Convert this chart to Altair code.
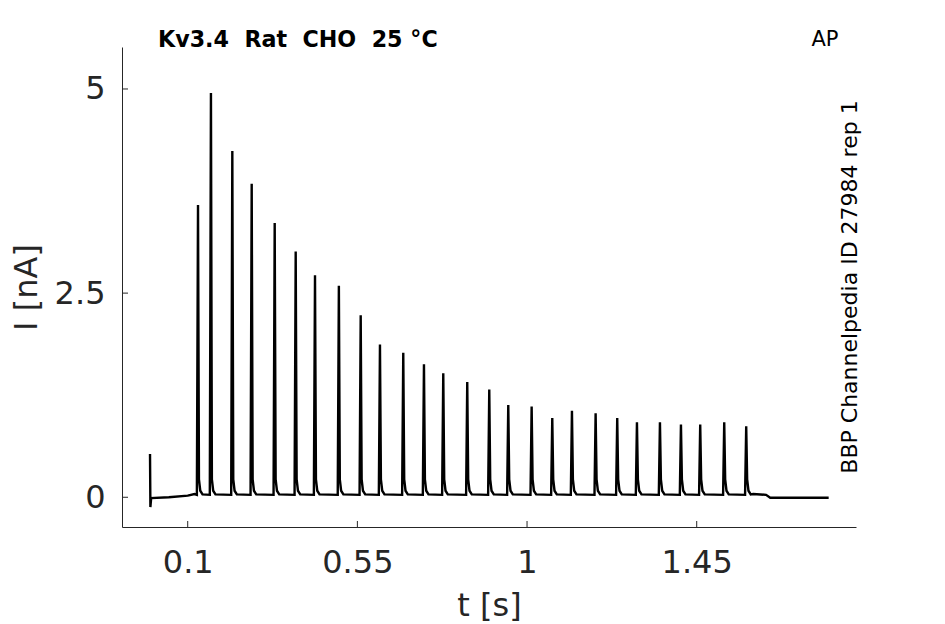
import altair as alt
import pandas as pd

# ---- data ----
spike_t = [0.1273, 0.1616, 0.2183, 0.2697, 0.3307, 0.3864, 0.4376, 0.5009, 0.5588,
           0.6099, 0.6717, 0.7266, 0.7778, 0.8414, 0.8998, 0.9502, 1.0122, 1.0669,
           1.1191, 1.1819, 1.2392, 1.2915, 1.3525, 1.4082, 1.4593, 1.5230, 1.5813]
spike_peak = [3.58, 4.95, 4.24, 3.84, 3.36, 3.01, 2.72, 2.59, 2.23, 1.87, 1.77, 1.63,
              1.52, 1.41, 1.32, 1.13, 1.11, 0.97, 1.06, 1.03, 0.97, 0.92, 0.92, 0.89,
              0.89, 0.92, 0.87]
# points around each spike: time offset (s) and current (nA); None = the spike's peak
shape_dt = [-0.003, 0.0, 0.0025, 0.006, 0.012]
shape_i = [0.03, None, 0.22, 0.08, 0.035]
# trace before the first spike (stimulus artifact and baseline)
start_t = [0.0, 0.001, 0.003, 0.05, 0.1, 0.118]
start_i = [0.53, -0.12, -0.01, 0.0, 0.02, 0.04]
# trace after the last spike
end_t = [1.60, 1.634, 1.645, 1.80]
end_i = [0.04, 0.03, -0.005, -0.005]

x_ticks = [0.1, 0.55, 1, 1.45]
y_ticks = [0, 2.5, 5]

title_text = "Kv3.4\u00a0\u00a0Rat\u00a0\u00a0CHO\u00a0\u00a025 °C"
corner_text = "AP"
side_text = "BBP Channelpedia ID 27984 rep 1"

# ---- build trace table ----
rows = []
for t, i in zip(start_t, start_i):
    rows.append((t, i))
for tp, pk in zip(spike_t, spike_peak):
    for dt, v in zip(shape_dt, shape_i):
        rows.append((tp + dt, pk if v is None else v))
for t, i in zip(end_t, end_i):
    rows.append((t, i))
trace = pd.DataFrame(rows, columns=["t", "I"])
trace["k"] = range(len(trace))

GRAY = "#262626"
FONT = "DejaVu Sans"
xscale = alt.Scale(domain=[-0.0743, 1.8725], nice=False, zero=False)
yscale = alt.Scale(domain=[-0.364, 5.514], nice=False, zero=False)

line = alt.Chart(trace).mark_line(color="black", strokeWidth=2.4, clip=True).encode(
    x=alt.X("t:Q", scale=xscale,
            axis=alt.Axis(values=x_ticks, format=".3~g", title="t [s]", ticks=False, tickSize=0,
                          grid=False, domainColor=GRAY, domainWidth=1,
                          labelFontSize=32, labelFont=FONT, labelColor=GRAY,
                          labelBaseline="alphabetic", labelPadding=45,
                          titleFontSize=32, titleFont=FONT, titleColor=GRAY,
                          titleFontWeight="normal", titleBaseline="alphabetic", titleY=88)),
    y=alt.Y("I:Q", scale=yscale,
            axis=alt.Axis(values=y_ticks, format=".3~g", title="I [nA]", ticks=False, tickSize=0,
                          grid=False, domainColor=GRAY, domainWidth=1,
                          labelFontSize=32, labelFont=FONT, labelColor=GRAY,
                          labelPadding=17,
                          titleFontSize=32, titleFont=FONT, titleColor=GRAY,
                          titleFontWeight="normal", titleAngle=270, titleAlign="center",
                          titleBaseline="alphabetic", titleX=-86, titleY=240)),
    order="k:Q",
)

xt = alt.Chart(pd.DataFrame({"t": x_ticks})).mark_rule(color=GRAY, strokeWidth=1).encode(
    x=alt.X("t:Q", scale=xscale), y=alt.value(480), y2=alt.value(474))
yt = alt.Chart(pd.DataFrame({"I": y_ticks})).mark_rule(color=GRAY, strokeWidth=1).encode(
    y=alt.Y("I:Q", scale=yscale), x=alt.value(0), x2=alt.value(6))

ttl = alt.Chart(pd.DataFrame({"s": [title_text]})).mark_text(
    font=FONT, fontSize=22.2, fontWeight="bold", color="black", align="left",
    baseline="alphabetic").encode(text="s:N", x=alt.value(36), y=alt.value(0))
ap = alt.Chart(pd.DataFrame({"s": [corner_text]})).mark_text(
    font=FONT, fontSize=21, color="black", align="center", baseline="alphabetic").encode(
    text="s:N", x=alt.value(703), y=alt.value(-1))
idtxt = alt.Chart(pd.DataFrame({"s": [side_text]})).mark_text(
    font=FONT, fontSize=22, color="black", align="center", baseline="alphabetic", angle=270).encode(
    text="s:N", x=alt.value(735), y=alt.value(240))

chart = alt.layer(line, xt, yt, ttl, ap, idtxt).properties(
    width=734, height=480,
    background="white",
    autosize=alt.AutoSizeParams(type="none"),
    padding={"left": 114, "top": 39, "right": 80, "bottom": 96},
).configure_view(stroke=None)

chart.save("out.html", embed_options={"renderer": "svg", "actions": False})
